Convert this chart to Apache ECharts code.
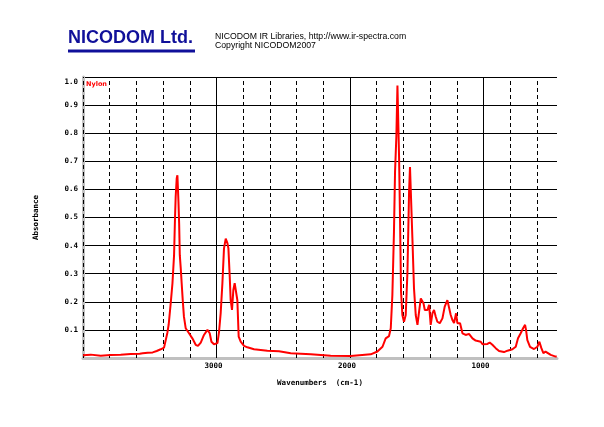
<!DOCTYPE html>
<html>
<head>
<meta charset="utf-8">
<script src="https://cdn.jsdelivr.net/npm/echarts@6/dist/echarts.min.js"></script>
<style>
html,body{margin:0;padding:0;background:#fff;}
#chart{width:604px;height:427px;}
</style>
</head>
<body>
<div id="chart"></div>
<script>
const sampleName = 'Nylon';
const wavenumbers = [4000,3942,3867,3793,3718,3643,3575,3553,3515,3478,
3448,3418,3393,3368,3358,3343,3330,3318,3311,3306,
3298,3293,3288,3285,3280,3275,3268,3261,3253,3244,
3231,3206,3181,3156,3139,3118,3094,3068,3051,3038,
3019,2993,2981,2969,2956,2944,2931,2924,2918,2911,
2901,2894,2884,2874,2864,2854,2844,2834,2819,2794,
2769,2719,2619,2532,2519,2444,2294,2145,1995,1845,
1795,1757,1733,1708,1695,1683,1671,1663,1653,1645,
1638,1633,1626,1618,1608,1596,1583,1570,1558,1551,
1540,1533,1521,1508,1495,1483,1470,1458,1450,1440,
1420,1408,1396,1383,1371,1358,1346,1328,1308,1291,
1271,1259,1246,1233,1221,1206,1196,1176,1166,1158,
1134,1109,1083,1059,1021,1008,971,954,934,909,
884,847,821,784,759,742,722,704,689,682,
672,652,622,597,582,567,552,536,522,497,
460,452];
const absorbance = [.010,.012,.008,.011,.012,.014,.015,.017,.019,.020,
.025,.031,.037,.090,.120,.195,.266,.366,.497,.573,
.640,.650,.645,.556,.480,.366,.320,.266,.206,.147,
.106,.088,.070,.047,.043,.055,.082,.100,.088,.058,
.049,.053,.094,.159,.266,.390,.425,.420,.408,.390,
.289,.206,.171,.242,.266,.271,.206,.076,.058,.043,
.038,.031,.026,.024,.021,.017,.013,.008,.007,.013,
.023,.040,.070,.078,.106,.224,.449,.662,.790,.970,
.976,.720,.508,.236,.153,.129,.153,.307,.591,.680,
.680,.426,.248,.153,.118,.165,.212,.212,.195,.171,
.171,.189,.118,.159,.171,.147,.129,.124,.141,.183,
.206,.200,.153,.135,.124,.159,.124,.124,.118,.088,
.082,.086,.070,.062,.058,.049,.050,.055,.047,.035,
.025,.021,.026,.031,.040,.070,.088,.106,.118,.100,
.064,.040,.032,.040,.058,.035,.017,.023,.026,.011,
.005,.005];
const xLabelValues = [3000, 2000, 1000];
const dashedGridValues = [4000,3800,3600,3400,3200,2800,2600,2400,2200,1800,1600,1400,1200,800,600];
const solidGridValues = [3000,2000,1000];
const xRange = [450, 4000];
const yRange = [0, 1];

const chart = echarts.init(document.getElementById('chart'), null, {renderer: 'canvas'});
const pts = wavenumbers.map((w, i) => [w, absorbance[i]]);
const gridLines = dashedGridValues.map(v => ({xAxis: v, lineStyle: {type: [4, 3], color: '#000', width: 1}}))
  .concat(solidGridValues.map(v => ({xAxis: v, lineStyle: {type: 'solid', color: '#000', width: 1}})));
const splitColors = [];
for (let i = 0; i <= 10; i++) splitColors.push(i === 0 ? 'rgba(0,0,0,0)' : '#000');

chart.setOption({
  animation: false,
  backgroundColor: '#fff',
  grid: {left: 83, right: 47, top: 77, bottom: 69, containLabel: false},
  xAxis: {
    type: 'value', min: xRange[0], max: xRange[1], inverse: true, interval: 50,
    name: 'Wavenumbers  (cm-1)', nameLocation: 'middle', nameGap: 21,
    nameTextStyle: {fontFamily: 'DejaVu Sans Mono', fontSize: 7.5, fontWeight: 'bold', color: '#000'},
    axisLine: {show: true, onZero: false, lineStyle: {color: '#c0c0c0', width: 3}},
    axisTick: {show: false},
    splitLine: {show: false},
    axisLabel: {
      show: true, margin: 4, fontFamily: 'DejaVu Sans Mono', fontSize: 7.5, fontWeight: 'bold', color: '#000',
      padding: [0, 6, 0, 0],
      formatter: v => (xLabelValues.indexOf(v) >= 0 ? String(v) : '')
    }
  },
  yAxis: {
    type: 'value', min: yRange[0], max: yRange[1], interval: 0.1,
    name: 'Absorbance', nameLocation: 'middle', nameGap: 43, nameRotate: 90,
    nameTextStyle: {fontFamily: 'DejaVu Sans Mono', fontSize: 7.5, fontWeight: 'bold', color: '#000'},
    axisLine: {show: true, lineStyle: {color: '#c0c0c0', width: 3}},
    axisTick: {show: false},
    splitLine: {show: true, lineStyle: {color: splitColors, width: 1, type: 'solid'}},
    axisLabel: {
      margin: 5, fontFamily: 'DejaVu Sans Mono', fontSize: 7.5, fontWeight: 'bold', color: '#000',
      formatter: v => (v === 0 ? '' : (Math.abs(v - 1) < 1e-9 ? '{t|1.0}' : v.toFixed(1))),
      rich: {t: {fontFamily: 'DejaVu Sans Mono', fontSize: 7.5, fontWeight: 'bold', color: '#000', padding: [10, 0, 0, 0]}}
    }
  },
  graphic: [
    {type: 'text', left: 68, top: 29, style: {text: 'NICODOM Ltd.', font: 'bold 18px "Liberation Sans", Arial, sans-serif', fill: '#10109a'}},
    {type: 'rect', shape: {x: 68, y: 49.5, width: 127, height: 3}, style: {fill: '#10109a'}},
    {type: 'text', left: 215, top: 32, style: {text: 'NICODOM IR Libraries, http://www.ir-spectra.com', font: '8.7px "Liberation Sans", Arial, sans-serif', fill: '#000'}},
    {type: 'text', left: 215, top: 41, style: {text: 'Copyright NICODOM2007', font: '8.7px "Liberation Sans", Arial, sans-serif', fill: '#000'}},
    {type: 'text', left: 86, top: 81, z: 10, style: {text: sampleName, font: 'bold 6.5px "DejaVu Sans", sans-serif', fill: '#ff0000'}}
  ],
  series: [
    {
      type: 'line', data: [], z: 1, silent: true,
      markLine: {silent: true, z: 1, symbol: ['none', 'none'], label: {show: false}, emphasis: {disabled: true}, animation: false, data: gridLines}
    },
    {
      type: 'line', name: sampleName, data: pts, z: 3, showSymbol: false, symbol: 'none', smooth: false,
      lineStyle: {color: '#ff0000', width: 2}, silent: true
    }
  ]
});
</script>
</body>
</html>
